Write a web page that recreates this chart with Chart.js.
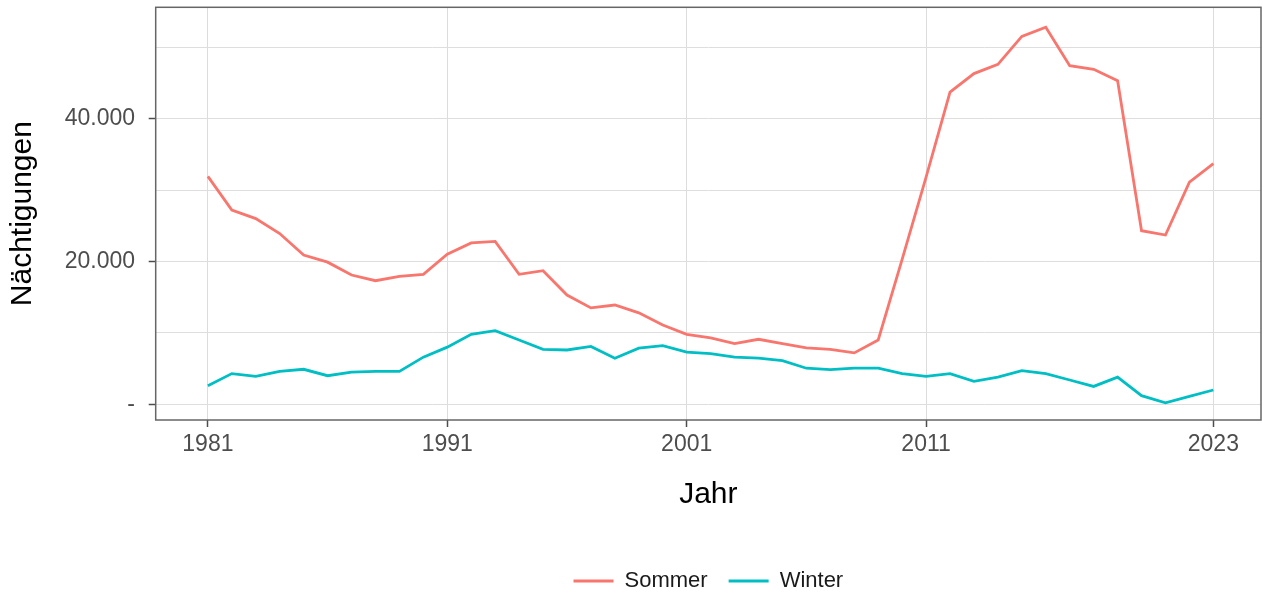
<!DOCTYPE html>
<html>
<head>
<meta charset="utf-8">
<script src="https://cdn.jsdelivr.net/npm/chart.js@4/dist/chart.umd.min.js"></script>
<style>
  html, body { margin: 0; padding: 0; background: #fff; }
  #wrap { width: 1262px; height: 594px; }
</style>
</head>
<body>
<div id="wrap"><canvas id="grafik"></canvas></div>
<script>
// Jahre 1981 - 2023
const jahre = [];
for (let j = 1981; j <= 2023; j++) jahre.push(j);

// Nächtigungen Sommer / Winter
const sommer = [31900, 27200, 26000, 23900, 20900, 19900, 18100, 17300, 17900, 18200,
                21000, 22600, 22800, 18200, 18700, 15300, 13500, 13900, 12800, 11100,
                9800, 9300, 8500, 9100, 8500, 7900, 7700, 7200, 9000, 20300,
                31800, 43700, 46300, 47600, 51500, 52800, 47400, 46900, 45300, 24300,
                23700, 31100, 33700];
const winter = [2600, 4300, 3900, 4600, 4900, 4000, 4500, 4600, 4600, 6600,
                8000, 9800, 10300, 9000, 7700, 7600, 8100, 6450, 7850, 8200,
                7300, 7100, 6600, 6450, 6100, 5050, 4850, 5050, 5050, 4300,
                3900, 4300, 3200, 3800, 4700, 4300, 3400, 2500, 3800, 1200,
                200, 1100, 2000];

const xTicks = [1981, 1991, 2001, 2011, 2023];
const yTicks = [0, 10000, 20000, 30000, 40000, 50000]; // beschriftet: 0, 20.000, 40.000

const tickFarbe = '#4d4d4d';

// Rahmen ums Panel
const rahmen = {
    id: 'rahmen',
    afterDraw(chart) {
        const {ctx, chartArea: a} = chart;
        ctx.save();
        ctx.strokeStyle = '#666666';
        ctx.lineWidth = 1.5;
        ctx.strokeRect(a.left, a.top, a.right - a.left, a.bottom - a.top);
        ctx.restore();
    }
};

// keine automatische Randpolsterung durch die Achsen
const ohnePadding = s => {
    s.paddingTop = 0;
    s.paddingBottom = 0;
    s.paddingLeft = 0;
    s.paddingRight = 0;
};

const config = {
    type: 'line',
    data: {
        datasets: [{
            label: 'Sommer',
            data: jahre.map((j, i) => ({x: j, y: sommer[i]})),
            borderColor: '#F8766D',
            backgroundColor: '#F8766D',
            borderWidth: 2.8,
            pointRadius: 0,
            tension: 0
        }, {
            label: 'Winter',
            data: jahre.map((j, i) => ({x: j, y: winter[i]})),
            borderColor: '#00BFC4',
            backgroundColor: '#00BFC4',
            borderWidth: 2.8,
            pointRadius: 0,
            tension: 0
        }]
    },
    options: {
        responsive: true,
        maintainAspectRatio: false,
        animation: false,
        layout: { padding: { top: 7.3, right: 1, left: 0, bottom: -8 } },
        plugins: {
            tooltip: { enabled: false },
            legend: {
                position: 'bottom',
                fullSize: false,
                labels: {
                    usePointStyle: true,
                    pointStyle: 'line',
                    pointStyleWidth: 40,
                    padding: 21,
                    color: '#1a1a1a',
                    font: { family: 'Liberation Sans', size: 22 }
                }
            }
        },
        scales: {
            x: {
                type: 'linear',
                min: 1978.82,
                max: 2024.99,
                afterBuildTicks: s => { s.ticks = xTicks.map(v => ({value: v})); },
                afterFit: s => { s.height = 129; ohnePadding(s); },
                ticks: {
                    color: tickFarbe,
                    padding: 4,
                    maxRotation: 0,
                    font: { family: 'Liberation Sans', size: 23 },
                    callback: v => String(v)
                },
                grid: { color: '#dcdcdc', lineWidth: 1, tickLength: 7, tickColor: '#4d4d4d', tickWidth: 1.5 },
                border: { display: false },
                title: {
                    display: true,
                    text: 'Jahr',
                    color: '#000',
                    font: { family: 'Liberation Sans', size: 30 },
                    padding: { top: 0, bottom: 36.5 }
                }
            },
            y: {
                min: -2200,
                max: 55580,
                afterBuildTicks: s => { s.ticks = yTicks.map(v => ({value: v})); },
                afterFit: s => { s.width = 155.7; ohnePadding(s); },
                ticks: {
                    color: tickFarbe,
                    padding: 13.7,
                    font: { family: 'Liberation Sans', size: 23 },
                    callback: v => v === 0 ? '-' : (v % 20000 === 0 ? v.toLocaleString('de-DE') : '')
                },
                grid: {
                    color: '#dedede',
                    lineWidth: 1,
                    tickLength: 7,
                    tickWidth: 1.5,
                    tickColor: c => (c.tick && c.tick.value % 20000 === 0) ? '#4d4d4d' : 'rgba(0,0,0,0)'
                },
                border: { display: false },
                title: {
                    display: true,
                    text: 'Nächtigungen',
                    color: '#000',
                    font: { family: 'Liberation Sans', size: 30 },
                    padding: { top: 4.5, bottom: 0 }
                }
            }
        }
    },
    plugins: [rahmen]
};

const ctx = document.getElementById('grafik').getContext('2d');
new Chart(ctx, config);
</script>
</body>
</html>
